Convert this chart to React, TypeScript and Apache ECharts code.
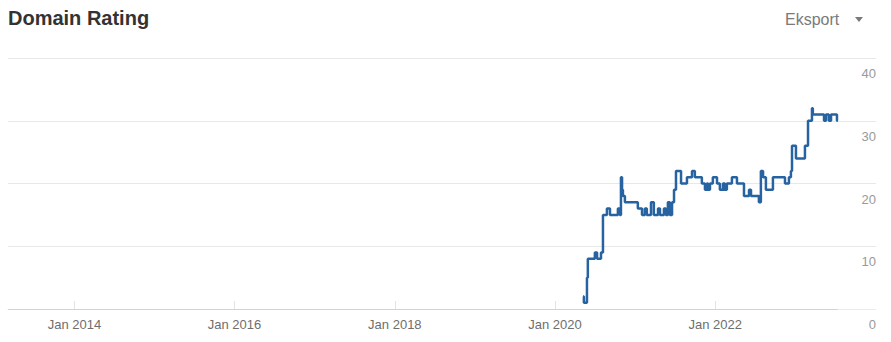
import React, { useEffect, useRef } from "react";
import * as echarts from "echarts";

const dates: string[] = [
  "2020-05-08", "2020-05-12", "2020-05-26", "2020-05-30", "2020-07-01", "2020-07-11",
  "2020-07-29", "2020-08-07", "2020-08-25", "2020-09-08", "2020-10-14", "2020-10-23",
  "2020-10-28", "2020-11-02", "2020-11-06", "2020-11-15", "2021-01-13", "2021-02-01",
  "2021-02-14", "2021-02-23", "2021-03-14", "2021-03-27", "2021-04-15", "2021-04-24",
  "2021-05-12", "2021-05-21", "2021-05-30", "2021-06-08", "2021-06-18", "2021-06-27",
  "2021-07-06", "2021-07-29", "2021-08-25", "2021-09-17", "2021-09-30", "2021-11-01",
  "2021-11-15", "2021-11-24", "2021-11-29", "2021-12-08", "2021-12-21", "2022-01-09",
  "2022-01-22", "2022-02-05", "2022-02-14", "2022-02-23", "2022-03-18", "2022-04-10",
  "2022-05-12", "2022-06-04", "2022-06-13", "2022-07-19", "2022-07-28", "2022-08-07",
  "2022-08-20", "2022-09-21", "2022-11-15", "2022-12-03", "2022-12-12", "2022-12-17",
  "2023-01-04", "2023-02-14", "2023-02-28", "2023-03-18", "2023-03-22", "2023-05-12",
  "2023-05-21", "2023-06-03", "2023-06-13", "2023-07-10", "2023-07-14",
];

const ratings: number[] = [
  2, 1, 5, 8, 9, 8,
  9, 15, 16, 15, 16, 15,
  21, 19, 18, 17, 16, 15,
  16, 15, 17, 15, 16, 15,
  16, 15, 17, 15, 17, 19,
  22, 20, 21, 22, 21, 20,
  19, 20, 19, 20, 21, 20,
  19, 20, 19, 20, 21, 20,
  18, 19, 18, 17, 22, 21,
  19, 21, 20, 21, 22, 26,
  24, 26, 30, 32, 31, 30,
  31, 30, 31, 30, 30,
];

const xTickYears: number[] = [2014, 2016, 2018, 2020, 2022];
const yTicks: number[] = [0, 10, 20, 30, 40];

const titleText = "Domain Rating";
const exportText = "Eksport";

const FONT = "'Liberation Sans', Arial, Helvetica, sans-serif";

function toTime(d: string): number {
  const [y, m, day] = d.split("-").map(Number);
  return new Date(y, m - 1, day).getTime();
}

export default function App() {
  const ref = useRef<HTMLDivElement>(null);

  useEffect(() => {
    if (!ref.current) return;
    const chart = echarts.init(ref.current, undefined, { renderer: "svg" });
    const tickValues = xTickYears.map((y) => new Date(y, 0, 1).getTime());
    const axisMin = new Date(2013, 2, 4).getTime();
    const axisMax = new Date(2024, 0, 4).getTime();
    const seriesData = dates.map((d, i) => [toTime(d), ratings[i]]);
    const lastTime = toTime(dates[dates.length - 1]);

    chart.setOption({
      animation: false,
      grid: { left: 8, right: 15, top: 58, bottom: 33, containLabel: false },
      graphic: [
        {
          type: "text",
          left: 8,
          top: 8,
          style: {
            text: titleText,
            fontSize: 20,
            fontWeight: "bold",
            fontFamily: FONT,
            fill: "#333333",
          },
        },
        {
          type: "text",
          x: 785,
          y: 19,
          style: {
            text: exportText,
            fontSize: 16,
            fontFamily: FONT,
            fill: "#7a7a7a",
            verticalAlign: "middle",
            align: "left",
          },
        },
        {
          type: "polygon",
          shape: { points: [[855, 17], [863, 17], [859, 22]] },
          style: { fill: "#7a7a7a" },
        },
      ],
      xAxis: {
        type: "value",
        min: axisMin,
        max: axisMax,
        axisLine: { show: true, onZero: false, lineStyle: { color: "#ebebeb", width: 1 } },
        axisTick: {
          show: true,
          inside: true,
          length: 8,
          lineStyle: { color: "#e3e3e3" },
          customValues: tickValues,
        },
        axisLabel: {
          show: true,
          customValues: tickValues,
          margin: 9,
          color: "#6e6e6e",
          fontSize: 13,
          fontFamily: FONT,
          formatter: (v: number) => "Jan " + new Date(v).getFullYear(),
        },
        splitLine: { show: false },
      },
      yAxis: {
        type: "value",
        position: "right",
        min: yTicks[0],
        max: yTicks[yTicks.length - 1],
        interval: 10,
        axisLine: { show: false },
        axisTick: { show: false },
        axisLabel: {
          inside: true,
          margin: 0,
          align: "right",
          verticalAlign: "top",
          padding: [9, 0, 0, 0],
          color: "#999999",
          fontSize: 13,
          fontFamily: FONT,
        },
        splitLine: { show: true, lineStyle: { color: "#e8e8e8", width: 1 } },
      },
      series: [
        {
          type: "line",
          step: "end",
          data: seriesData,
          showSymbol: false,
          symbol: "none",
          lineStyle: { color: "#2763a0", width: 2.5 },
          itemStyle: { color: "#2763a0" },
          z: 3,
          markLine: {
            silent: true,
            symbol: ["none", "none"],
            label: { show: false },
            lineStyle: { color: "#d3d3d3", width: 1, type: "solid" },
            data: [[{ coord: [axisMin, 0] }, { coord: [lastTime, 0] }]],
            z: 2,
          },
        },
      ],
    });
    return () => chart.dispose();
  }, []);

  return (
    <div
      ref={ref}
      style={{ position: "fixed", left: 0, top: 0, width: 891, height: 342, background: "#ffffff" }}
    />
  );
}
